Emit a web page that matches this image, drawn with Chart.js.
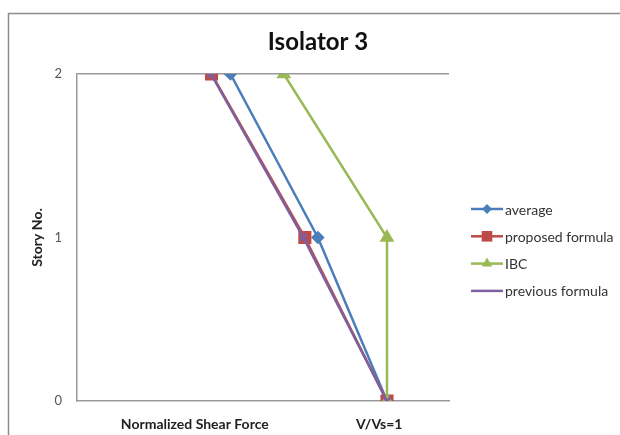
<!DOCTYPE html>
<html>
<head>
<meta charset="utf-8">
<script src="https://cdn.jsdelivr.net/npm/chart.js@4.4.0/dist/chart.umd.min.js"></script>
<style>
  html, body { margin: 0; padding: 0; background: #fff; }
  #wrap { width: 620px; height: 435px; }
</style>
</head>
<body>
<div id="wrap"><canvas id="chart" width="620" height="435"></canvas></div>
<script>
// story levels (y) and normalized shear force (x) for each series
const stories = [2, 1, 0];
const average = [0.495, 0.777, 1.0];
const proposedFormula = [0.434, 0.735, 1.0];
const ibc = [0.667, 1.0, 1.0];
const previousFormula = [0.432, 0.73, 1.0];

const seriesNames = ['average', 'proposed formula', 'IBC', 'previous formula'];
const chartTitle = 'Isolator 3';
const xTickPos = [0.38, 0.975];
const xTickLabels = ['Normalized Shear Force', 'V/Vs=1'];

const toPoints = (xs) => xs.map((x, i) => ({ x: x, y: stories[i] }));

// outer frame + title (title is centred on the whole picture, not the plot)
const framePlugin = {
    id: 'frame',
    beforeDraw(chart) {
        const c = chart.ctx;
        c.save();
        c.strokeStyle = '#8c8c8c';
        c.lineWidth = 1.5;
        c.strokeRect(8.5, 13.5, 800, 600);
        c.fillStyle = '#111';
        c.font = 'bold 24px Lato';
        c.textAlign = 'center';
        c.textBaseline = 'middle';
        c.fillText(chartTitle, 318, 42);
        c.restore();
    }
};

// legend: line + marker + label, stacked on the right
const legendPlugin = {
    id: 'sideLegend',
    afterDraw(chart) {
        const c = chart.ctx;
        const x0 = chart.chartArea.right + 22;
        const y0 = 209;
        const gap = 27.3;
        c.save();
        chart.data.datasets.forEach((ds, i) => {
            const y = y0 + i * gap;
            c.strokeStyle = ds.borderColor;
            c.lineWidth = 2.5;
            c.beginPath();
            c.moveTo(x0, y);
            c.lineTo(x0 + 32, y);
            c.stroke();
            c.fillStyle = ds.pointBackgroundColor;
            c.strokeStyle = ds.pointBorderColor;
            c.lineWidth = 1.5;
            Chart.helpers.drawPoint(c, { pointStyle: ds.pointStyle, radius: ds.pointRadius, rotation: 0 }, x0 + 16, y);
            c.fillStyle = '#333';
            c.font = '14px Lato';
            c.textBaseline = 'middle';
            c.fillText(ds.label, x0 + 34, y + 1);
        });
        c.restore();
    }
};

const makeSet = (label, data, color, style, radius, order) => ({
    label: label,
    data: toPoints(data),
    showLine: true,
    borderColor: color,
    backgroundColor: color,
    pointBackgroundColor: color,
    pointBorderColor: color,
    borderWidth: 2.5,
    pointStyle: style,
    pointRadius: radius,
    pointHoverRadius: radius,
    order: order
});

const ctx = document.getElementById('chart').getContext('2d');
const isolatorChart = new Chart(ctx, {
    type: 'scatter',
    data: {
        datasets: [
            makeSet(seriesNames[0], average, '#4A7EBB', 'rectRot', 5, 3),
            makeSet(seriesNames[1], proposedFormula, '#BE4B48', 'rect', 7.5, 2),
            makeSet(seriesNames[2], ibc, '#98B954', 'triangle', 6, 1),
            makeSet(seriesNames[3], previousFormula, '#7D60A0', 'crossRot', 5, 0)
        ]
    },
    options: {
        responsive: false,
        animation: false,
        layout: { padding: { left: 8, right: 171, top: 74, bottom: 0 } },
        plugins: {
            legend: { display: false },
            tooltip: { enabled: false },
            title: { display: false }
        },
        scales: {
            x: {
                type: 'linear',
                min: 0,
                max: 1.2,
                grid: { display: false, drawTicks: false },
                border: { display: true, color: '#999', width: 1.5 },
                afterBuildTicks: (scale) => {
                    scale.ticks = xTickPos.map(v => ({ value: v }));
                },
                afterFit: (scale) => { scale.height = 34; },
                ticks: {
                    autoSkip: false,
                    maxRotation: 0,
                    padding: 15,
                    color: '#222',
                    font: { family: 'Lato', size: 14, weight: 'bold' },
                    callback: (v, i) => xTickLabels[i]
                }
            },
            y: {
                type: 'linear',
                min: 0,
                max: 2,
                grid: {
                    drawTicks: false,
                    lineWidth: 1.5,
                    color: (c) => (c.tick && c.tick.value === 2) ? '#999' : 'rgba(0,0,0,0)'
                },
                border: { display: true, color: '#999', width: 1.5 },
                afterFit: (scale) => { scale.width = 69; },
                ticks: {
                    stepSize: 1,
                    padding: 15,
                    color: '#555',
                    font: { family: 'Lato', size: 13 }
                },
                title: {
                    display: true,
                    text: 'Story No.',
                    color: '#222',
                    font: { family: 'Lato', size: 14, weight: 'bold' },
                    padding: { top: 21, bottom: 0 }
                }
            }
        }
    },
    plugins: [framePlugin, legendPlugin]
});
</script>
</body>
</html>
